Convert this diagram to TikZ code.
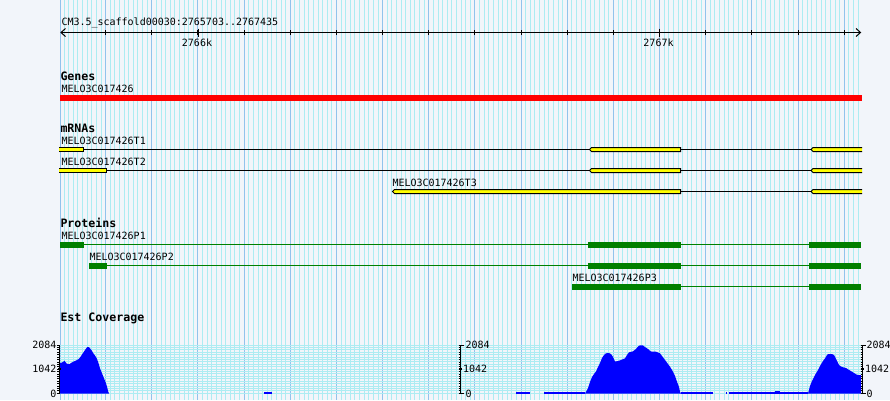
\documentclass[tikz,border=0pt]{standalone}
\usepackage{fontspec}
\newfontfamily\gdfont{DejaVu Sans Mono}
\definecolor{bgc}{RGB}{242,245,250}
\definecolor{gridc}{RGB}{172,236,242}
\definecolor{gridm}{RGB}{145,195,236}
\definecolor{exony}{RGB}{255,255,0}
\definecolor{protg}{RGB}{0,128,0}
\definecolor{covb}{RGB}{0,0,255}
\begin{document}
\begin{tikzpicture}[x=1pt,y=-1pt,line width=1pt,
  lbl/.style={font=\gdfont\fontsize{10}{12}\selectfont,anchor=base west,inner sep=0pt},
  ttl/.style={font=\gdfont\bfseries\fontsize{11.6}{13}\selectfont,anchor=base west,inner sep=0pt},
  axl/.style={font=\gdfont\fontsize{10}{12}\selectfont,inner sep=0pt},
  tline/.style={draw=black,line width=1pt},
  exon/.style={draw=black,fill=exony,line width=1pt},
  pline/.style={draw=protg,line width=1pt},
  pbox/.style={fill=protg},
  vgrid/.style={draw=gridc,line width=1pt},
  vgridm/.style={draw=gridm,line width=1pt},
  hgrid/.style={draw=gridc,line width=1pt},
  ruler/.style={draw=black,line width=1pt}]
\fill[bgc] (0,0) rectangle (890,400);
\useasboundingbox (0,0) rectangle (890,400);
% vertical grid
\foreach \i in {0,...,172}{\draw[vgrid] ({60.9+(7+10*\i)*0.4616},0) -- ({60.9+(7+10*\i)*0.4616},400);}
\foreach \k in {0,...,16}{\draw[vgridm] ({60.9+(97+100*\k)*0.4616},0) -- ({60.9+(97+100*\k)*0.4616},400);}
\draw[vgridm] (60.5,0) -- (60.5,400);
% horizontal coverage grid
\foreach \k in {0,...,20}{\draw[hgrid] (60,{345+\k*2.415}) -- (862,{345+\k*2.415});}
% ruler
\node[lbl] (title) at (61,25) {CM3.5\_scaffold00030:2765703..2767435};
\coordinate (rl) at (61,32.5);
\coordinate (rr) at (860.5,32.5);
\draw[ruler] (rl) -- (rr);
\draw[ruler] (65.5,28.5) -- (rl) -- (65.5,36.5);
\draw[ruler] (856,28.5) -- (rr) -- (856,36.5);
\foreach \k in {0,...,16}{\draw[ruler] ({60.9+(97+100*\k)*0.4616},30) -- ({60.9+(97+100*\k)*0.4616},35);}
\draw[ruler] (198,28.5) -- (198,36.5);
\draw[ruler] (659.5,28.5) -- (659.5,36.5);
\node[lbl,anchor=base] (k2766) at (197,46) {2766k};
\node[lbl,anchor=base] (k2767) at (658.5,46) {2767k};
% Genes
\node[ttl] (tgenes) at (60,80) {Genes};
\node[lbl] (gene) at (61,92) {MELO3C017426};
\fill[red] (60,95) rectangle (862,101);
% mRNAs
\node[ttl] (tmrna) at (60,132) {mRNAs};
\node[lbl] (t1) at (61,144.3) {MELO3C017426T1};
\node[lbl] (t2) at (61,165.3) {MELO3C017426T2};
\node[lbl] (t3) at (392,186.3) {MELO3C017426T3};
\begin{scope}
\clip (59,0) rectangle (862,400);
% T1
\draw[tline] (60,149.5) -- (862,149.5);
\draw[exon] (56,147.5) rectangle (83,151.5);
\draw[exon] (589.5,149.5) -- (591.5,147.5) -- (680.5,147.5) -- (680.5,151.5) -- (591.5,151.5) -- cycle;
\draw[exon] (811,149.5) -- (813,147.5) -- (866,147.5) -- (866,151.5) -- (813,151.5) -- cycle;
% T2
\draw[tline] (60,170.5) -- (862,170.5);
\draw[exon] (56,168.5) rectangle (106,172.5);
\draw[exon] (589.5,170.5) -- (591.5,168.5) -- (680.5,168.5) -- (680.5,172.5) -- (591.5,172.5) -- cycle;
\draw[exon] (811,170.5) -- (813,168.5) -- (866,168.5) -- (866,172.5) -- (813,172.5) -- cycle;
% T3
\draw[tline] (680,191.5) -- (862,191.5);
\draw[exon] (392.5,191.5) -- (394.5,189.5) -- (680.5,189.5) -- (680.5,193.5) -- (394.5,193.5) -- cycle;
\draw[exon] (811,191.5) -- (813,189.5) -- (866,189.5) -- (866,193.5) -- (813,193.5) -- cycle;
\end{scope}
% Proteins
\node[ttl] (tprot) at (60,227.3) {Proteins};
\node[lbl] (p1) at (61,239.3) {MELO3C017426P1};
\node[lbl] (p2) at (89,260.3) {MELO3C017426P2};
\node[lbl] (p3) at (572,281.3) {MELO3C017426P3};
\draw[pline] (60,244.5) -- (861,244.5);
\fill[pbox] (60,242) rectangle (84,247.5);
\fill[pbox] (588,242) rectangle (681,247.5);
\fill[pbox] (809,242) rectangle (861,247.5);
\draw[pline] (89,265.5) -- (861,265.5);
\fill[pbox] (89,263) rectangle (107,268.5);
\fill[pbox] (588,263) rectangle (681,268.5);
\fill[pbox] (809,263) rectangle (861,268.5);
\draw[pline] (572,286.8) -- (861,286.8);
\fill[pbox] (572,284) rectangle (681,289.5);
\fill[pbox] (809,284) rectangle (861,289.5);
% Est coverage
\node[ttl] (tcov) at (60,321.7) {Est Coverage};
\fill[covb] (60,393.5) -- (60,363.3) -- (63,362) -- (64.3,360.7) -- (66.7,363.5) -- (69.3,364.3) -- (71,363) -- (73.3,361.7) -- (76,360.5) -- (78.3,359.3) -- (80,357.5) -- (81.7,355) -- (83.5,352.3) -- (85,350) -- (87.3,347) -- (89,347.2) -- (90,348.3) -- (91.7,350.5) -- (93.3,353.3) -- (95,355.5) -- (96.7,358.3) -- (98.3,362.5) -- (100,368.3) -- (101.3,371.5) -- (102.7,375) -- (104.3,379) -- (106,383.3) -- (107.2,387.5) -- (108.3,391.7) -- (109,393.5) -- cycle;
\fill[covb] (264,392) rectangle (271.5,393.8);
\fill[covb] (516,392) rectangle (530,393.8);
\fill[covb] (544,392) rectangle (585,393.8);
\fill[covb] (585,393.5) -- (587,390) -- (588,388) -- (590,382) -- (592,377) -- (594,374) -- (596,371.5) -- (598,367) -- (600,363) -- (602,358) -- (604,355) -- (606,353.3) -- (609,353) -- (611,354) -- (613,357) -- (615,361.5) -- (618,361) -- (621,360) -- (625,358.3) -- (627,355) -- (629,352.3) -- (633,351.3) -- (636,349) -- (638,346.5) -- (640,345.3) -- (643,345.5) -- (645,347) -- (648,349) -- (650,351) -- (652,351.7) -- (656,351.7) -- (658,352.5) -- (660,353.3) -- (662,356) -- (665,360) -- (668,364) -- (670,366.7) -- (673,371.7) -- (675,376) -- (677,381.7) -- (679,387) -- (680,391.7) -- (681,393.5) -- cycle;
\fill[covb] (681,392) rectangle (713,393.8);
\fill[covb] (726,392) rectangle (727,393.8);
\fill[covb] (729,392) rectangle (808,393.8);
\fill[covb] (775,391) rectangle (779.5,393.8);
\fill[covb] (808,393.5) -- (810,386) -- (812,381) -- (815,375) -- (818,370) -- (820,366) -- (823,361) -- (825,358.3) -- (827,355) -- (828,354) -- (832,354) -- (834,355) -- (835,356.7) -- (837,361) -- (839,365) -- (841,366.5) -- (843,367.3) -- (846,368) -- (848,369.3) -- (850,370.5) -- (852,371.7) -- (854,373) -- (856,374.3) -- (858,375) -- (861,375) -- (861,393.5) -- cycle;
% axes
\draw[ruler] (59.5,345) -- (59.5,393.5);
\foreach \k in {0,...,20}{\draw[ruler,line width=0.8pt] (57,{345+\k*2.415}) -- (59.5,{345+\k*2.415});}
\draw[ruler] (56.5,345.5) -- (60,345.5);
\draw[ruler] (56.5,393) -- (60,393);
\fill[black] (58,367.8) rectangle (61,370.4);
\node[axl,anchor=base east] (l2084) at (57,348.7) {2084};
\node[axl,anchor=base east] (l1042) at (57,372.7) {1042};
\node[axl,anchor=base east] (l0) at (57,397) {0};
\draw[ruler] (460.5,345) -- (460.5,393.5);
\foreach \k in {0,...,20}{\draw[ruler,line width=0.8pt] (458.5,{345+\k*2.415}) -- (461,{345+\k*2.415});}
\draw[ruler] (458.5,345.5) -- (464,345.5);
\draw[ruler] (458.5,393) -- (464,393);
\fill[black] (459,367.8) rectangle (462,370.4);
\node[axl,anchor=base west] (m2084) at (465,348.7) {2084};
\node[axl,anchor=base west] (m1042) at (462.5,372.7) {1042};
\node[axl,anchor=base west] (m0) at (465,397) {0};
\draw[ruler] (862.5,345) -- (862.5,393.5);
\foreach \k in {0,...,20}{\draw[ruler,line width=0.8pt] (860.5,{345+\k*2.415}) -- (863,{345+\k*2.415});}
\draw[ruler] (860.5,345.5) -- (866,345.5);
\draw[ruler] (860.5,393) -- (866,393);
\fill[black] (861,367.8) rectangle (864,370.4);
\node[axl,anchor=base west] (r2084) at (866,348.7) {2084};
\node[axl,anchor=base west] (r1042) at (864.5,372.7) {1042};
\node[axl,anchor=base west] (r0) at (866,397) {0};
\end{tikzpicture}
\end{document}
